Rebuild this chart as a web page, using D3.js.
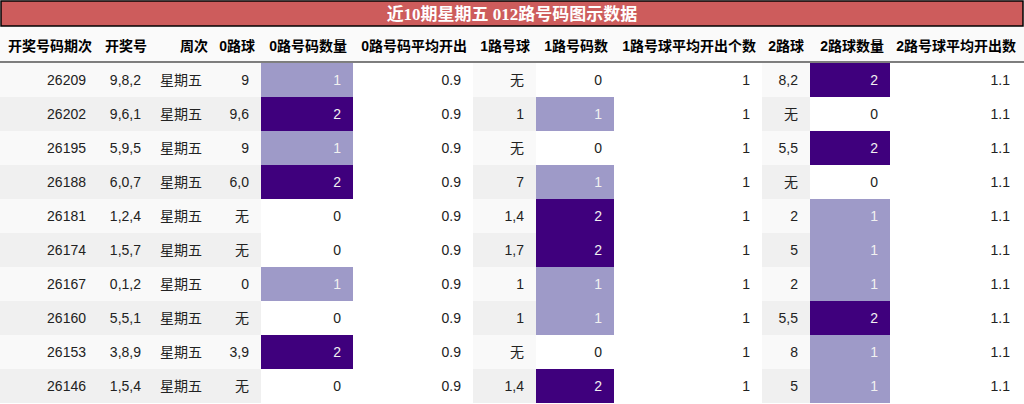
<!DOCTYPE html><html><head><meta charset="utf-8"><script src="https://cdn.jsdelivr.net/npm/d3@7"></script>
<style>body{margin:0;background:#fff}</style></head><body><svg id="c" width="1024" height="404"></svg>
<script>
const title="近10期星期五 012路号码图示数据";
const headers=["开奖号码期次","开奖号","周次","0路球","0路号码数量","0路号码平均开出","1路号球","1路号码数","1路号球平均开出个数","2路球","2路球数量","2路号球平均开出数"];
const issues=["26209","26202","26195","26188","26181","26174","26167","26160","26153","26146"];
const draws=["9,8,2","9,6,1","5,9,5","6,0,7","1,2,4","1,5,7","0,1,2","5,5,1","3,8,9","1,5,4"];
const weekday="星期五";
const balls0=["9","9,6","9","6,0","无","无","0","无","3,9","无"];
const count0=[1,2,1,2,0,0,1,0,2,0];
const avg0="0.9";
const balls1=["无","1","无","7","1,4","1,7","1","1","无","1,4"];
const count1=[0,1,0,1,2,2,1,1,0,2];
const avg1="1";
const balls2=["8,2","无","5,5","无","2","5","2","5,5","8","5"];
const count2=[2,0,2,0,1,1,1,2,1,1];
const avg2="1.1";
const colW=[98,55,61,47,92,120,63,78,148,48,80,132];
const rows=issues.map((d,i)=>[d,draws[i],weekday,balls0[i],count0[i],avg0,balls1[i],count1[i],avg1,balls2[i],count2[i],avg2]);
const countCols=new Set([4,7,10]), avgCols=new Set([5,8,11]);
const svg=d3.select("#c");
const font="'Liberation Sans','Noto Sans CJK SC',sans-serif";
svg.append("rect").attr("x",1).attr("y",1).attr("width",1022).attr("height",25).attr("fill","#cd5c5c").attr("stroke","#000").attr("stroke-width",1.5);
svg.append("text").attr("x",512).attr("y",20).attr("text-anchor","middle").attr("fill","#fff").attr("font-size",17).attr("font-weight","bold").attr("font-family","'Liberation Serif','Noto Sans CJK SC',serif").text(title);
const xs=[0];colW.forEach(w=>xs.push(xs[xs.length-1]+w));
const y=d3.scaleBand().domain(d3.range(10)).range([63,403]);
const color=d3.scaleOrdinal().domain([0,1,2]).range(["#ffffff","#9e9ac8","#3f007d"]);
svg.append("rect").attr("x",0).attr("y",27).attr("width",1024).attr("height",35).attr("fill","#fafafa");
headers.forEach((h,j)=>svg.append("text").attr("x",xs[j+1]-6).attr("y",51).attr("text-anchor","end").attr("font-size",14).attr("font-weight","bold").attr("font-family",font).attr("fill","#000").text(h));
svg.append("line").attr("x1",0).attr("x2",1024).attr("y1",62).attr("y2",62).attr("stroke","#000").attr("stroke-width",1.2);
rows.forEach((r,i)=>{
  const g=svg.append("g");
  r.forEach((v,j)=>{
    let fill=i%2?"#f0f0f0":"#f9f9f9", tc="#222";
    if(countCols.has(j)){fill=color(v);tc=v===0?"#222":(v===2?"#f1f1f1":"#f1f1f1");}
    else if(avgCols.has(j)) fill="#ffffff";
    g.append("rect").attr("x",xs[j]).attr("y",y(i)).attr("width",colW[j]).attr("height",y.bandwidth()).attr("fill",fill);
    g.append("text").attr("x",xs[j+1]-12).attr("y",y(i)+y.bandwidth()/2+5).attr("text-anchor","end").attr("font-size",14).attr("font-family",font).attr("fill",tc).text(v);
  });
});
</script></body></html>
